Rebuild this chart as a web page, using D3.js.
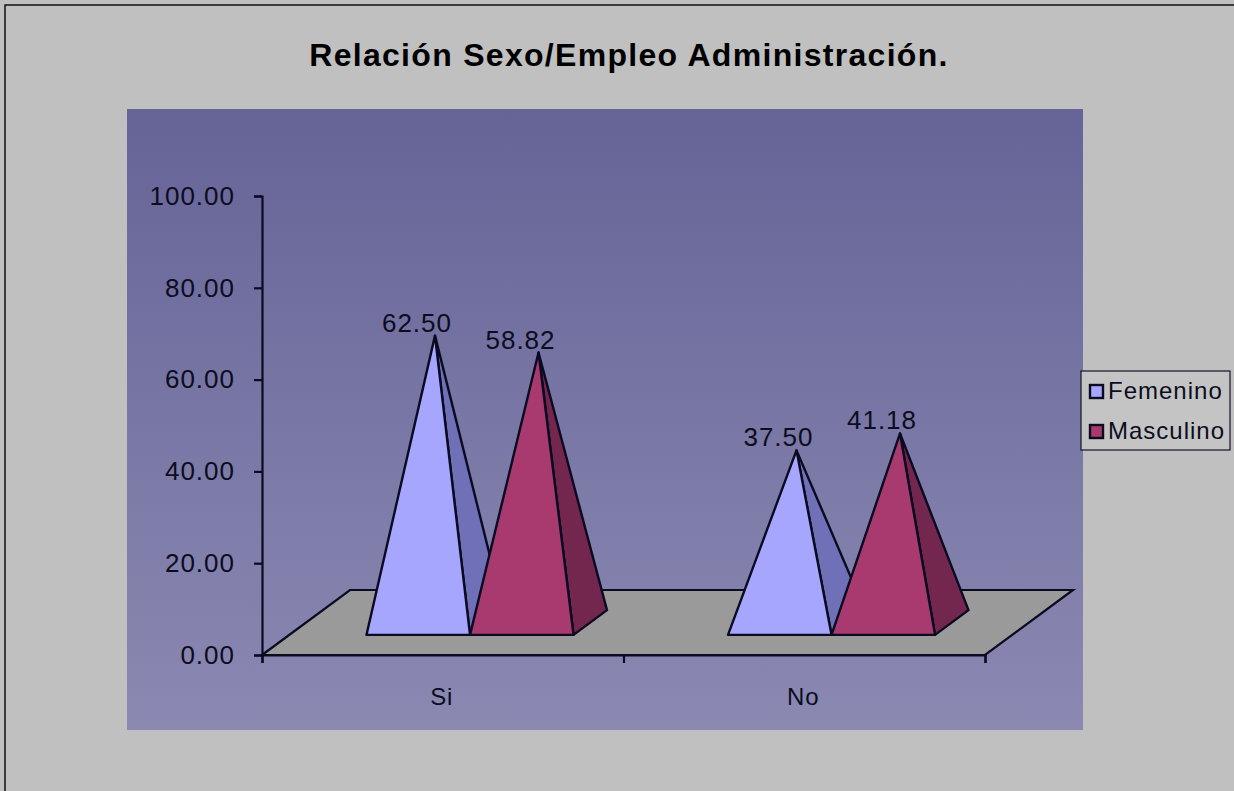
<!DOCTYPE html>
<html>
<head>
<meta charset="utf-8">
<script src="https://cdn.jsdelivr.net/npm/d3@7/dist/d3.min.js"></script>
<style>
  html, body { margin: 0; padding: 0; background: #c0c0c0; }
  svg { display: block; }
  text { font-family: "Liberation Sans", Arial, sans-serif; fill: #0c0c1e; }
</style>
</head>
<body>
<svg id="chart" width="1234" height="791"></svg>
<script>
const chartTitle = "Relación Sexo/Empleo Administración.";
const categories = ["Si", "No"];
const seriesNames = ["Femenino", "Masculino"];
const femenino = [62.50, 37.50];
const masculino = [58.82, 41.18];
const yTicks = [0, 20, 40, 60, 80, 100];

const seriesValues = [femenino, masculino];
const frontColors = ["#a6a6ff", "#a83a70"];
const sideColors = ["#7070b8", "#74274e"];

const svg = d3.select("#chart");

// Plot geometry: front plane of the 3D box and the oblique depth vector
const plot = { left: 262, right: 985, bottom: 655, top: 196 };
const depth = { x: 88, y: -65 };
const depthFront = 0.31, depthBack = 0.69;

const y = d3.scaleLinear().domain([0, 100]).range([plot.bottom, plot.top]);
const x0 = d3.scaleBand().domain(categories).range([plot.left, plot.right]);
const x1 = d3.scaleBand().domain(seriesNames)
  .range([0, x0.bandwidth()]).paddingOuter(0.746).paddingInner(0);

// Chart area and plot background
const defs = svg.append("defs");
const grad = defs.append("linearGradient").attr("id", "plotFill")
  .attr("x1", 0).attr("y1", 0).attr("x2", 0).attr("y2", 1);
grad.append("stop").attr("offset", 0).attr("stop-color", "#666497");
grad.append("stop").attr("offset", 1).attr("stop-color", "#8b89b2");

svg.append("rect").attr("x", 5).attr("y", 5).attr("width", 1240).attr("height", 800)
  .attr("fill", "#c0c0c0").attr("stroke", "#111").attr("stroke-width", 1.5);

svg.append("rect").attr("x", 127).attr("y", 109).attr("width", 956).attr("height", 621)
  .attr("fill", "url(#plotFill)");

svg.append("text").attr("x", 629).attr("y", 66)
  .attr("text-anchor", "middle")
  .attr("font-size", 32).attr("font-weight", "bold")
  .attr("letter-spacing", 1.3)
  .style("fill", "#000")
  .text(chartTitle);

// Floor of the 3D box
const floorPts = [
  [plot.left, plot.bottom],
  [plot.left + depth.x, plot.bottom + depth.y],
  [plot.right + depth.x, plot.bottom + depth.y],
  [plot.right, plot.bottom]
];
svg.append("polygon")
  .attr("points", floorPts.join(" "))
  .attr("fill", "#9a9a9a").attr("stroke", "#0a0a20").attr("stroke-width", 2.2);

// Axes
const yAxis = d3.axisLeft(y).tickValues(yTicks).tickFormat(d => d.toFixed(2)).tickSize(8).tickPadding(19);
const gy = svg.append("g").attr("transform", `translate(${plot.left},0)`).call(yAxis);
gy.selectAll("text").attr("font-size", 26).attr("letter-spacing", 1);

const xBoundary = d3.scalePoint().domain(d3.range(categories.length + 1)).range([plot.left, plot.right]);
const xTickAxis = d3.axisBottom(xBoundary).tickSize(8).tickFormat("");
svg.append("g").attr("transform", `translate(0,${plot.bottom})`).call(xTickAxis);

svg.selectAll("g path.domain, g line").attr("stroke", "#0a0a20").attr("stroke-width", 2.2);

svg.append("g").selectAll("text").data(categories).join("text")
  .attr("x", d => x0(d) + x0.bandwidth() / 2 - 1)
  .attr("y", 705)
  .attr("text-anchor", "middle")
  .attr("font-size", 24).attr("letter-spacing", 0.8)
  .text(d => d);

// Pyramids: side face, then front face, apex above the centre of the base
const marks = [];
categories.forEach((c, ci) => {
  seriesNames.forEach((s, si) => {
    marks.push({ c, s, si, value: seriesValues[si][ci] });
  });
});

const bars = svg.append("g").selectAll("g").data(marks).join("g");

function geometry(d) {
  const left = x0(d.c) + x1(d.s) + depth.x * depthFront;
  const right = left + x1.bandwidth();
  const baseY = plot.bottom + depth.y * depthFront;
  const dMid = (depthFront + depthBack) / 2;
  const dSpan = depthBack - depthFront;
  return {
    left, right, baseY,
    backRight: [right + depth.x * dSpan, baseY + depth.y * dSpan],
    apex: [x0(d.c) + x1(d.s) + x1.bandwidth() / 2 + depth.x * dMid, y(d.value) + depth.y * dMid]
  };
}

bars.append("polygon")
  .attr("points", d => {
    const g = geometry(d);
    return [[g.right, g.baseY], g.backRight, g.apex].join(" ");
  })
  .attr("fill", d => sideColors[d.si])
  .attr("stroke", "#0a0a20").attr("stroke-width", 2.4).attr("stroke-linejoin", "round");

bars.append("polygon")
  .attr("points", d => {
    const g = geometry(d);
    return [[g.left, g.baseY], [g.right, g.baseY], g.apex].join(" ");
  })
  .attr("fill", d => frontColors[d.si])
  .attr("stroke", "#0a0a20").attr("stroke-width", 2.4).attr("stroke-linejoin", "round");

bars.append("text")
  .attr("x", d => geometry(d).apex[0] - 18)
  .attr("y", d => geometry(d).apex[1] - 4)
  .attr("text-anchor", "middle")
  .attr("font-size", 26).attr("letter-spacing", 1)
  .text(d => d.value.toFixed(2));

// Legend
const legend = svg.append("g");
legend.append("rect").attr("x", 1081).attr("y", 371).attr("width", 149).attr("height", 79)
  .attr("fill", "#c4c4c4").attr("stroke", "#14142a").attr("stroke-width", 1.2);
const rows = legend.selectAll("g").data(seriesNames).join("g")
  .attr("transform", (d, i) => `translate(0,${391 + i * 40})`);
rows.append("rect").attr("x", 1090).attr("y", -6).attr("width", 13).attr("height", 13)
  .attr("fill", (d, i) => frontColors[i])
  .attr("stroke", "#0a0a20").attr("stroke-width", 2.4);
rows.append("text").attr("x", 1108).attr("y", 8)
  .attr("font-size", 24).attr("letter-spacing", 1)
  .text(d => d);
</script>
</body>
</html>
